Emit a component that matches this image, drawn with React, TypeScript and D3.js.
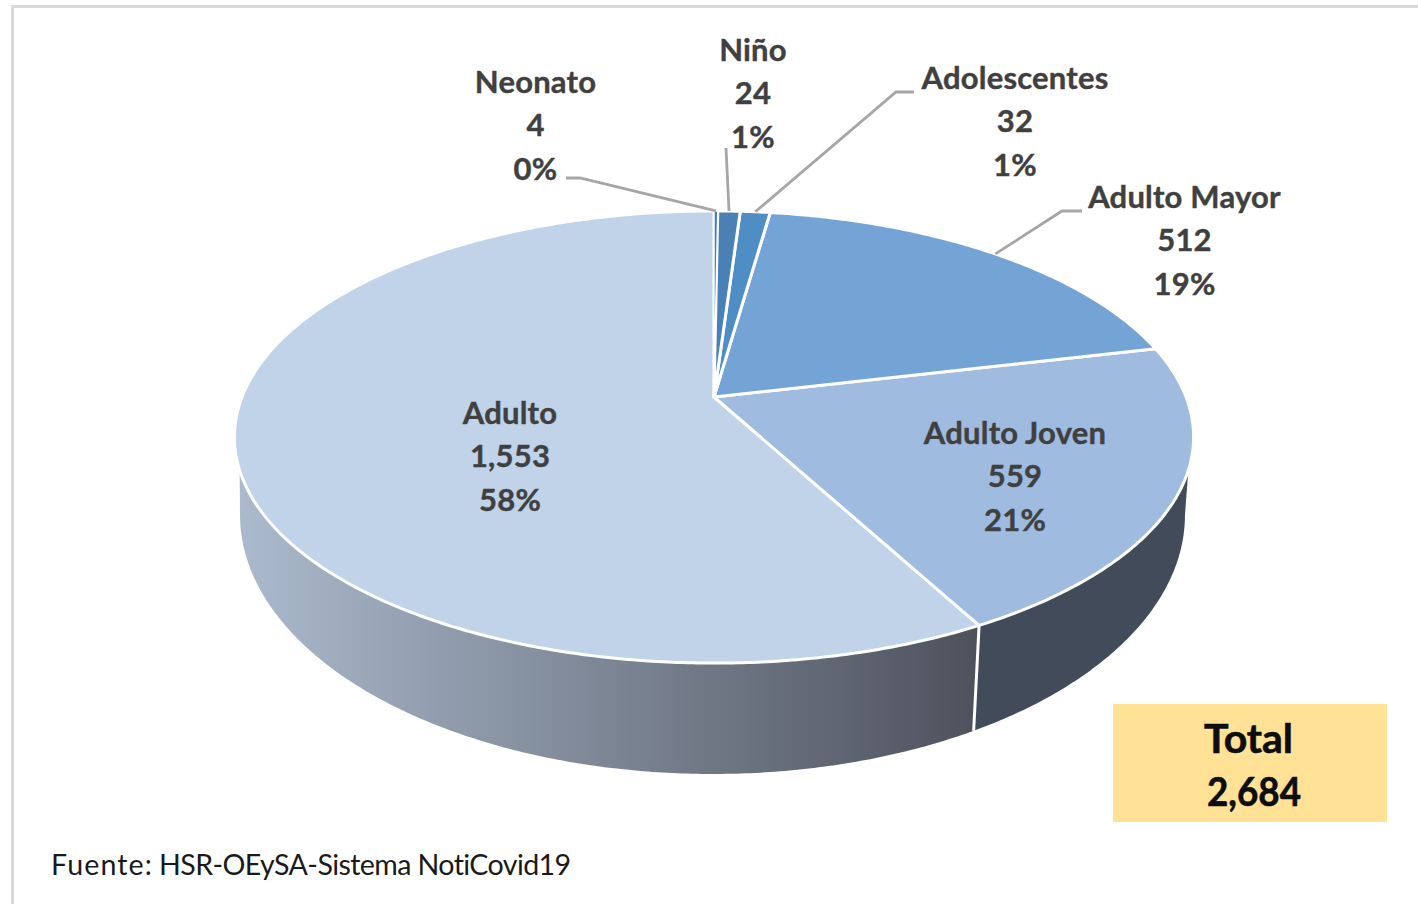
import React from "react";
import * as d3 from "d3";

const categories = ["Neonato", "Niño", "Adolescentes", "Adulto Mayor", "Adulto Joven", "Adulto"];
const values = [4, 24, 32, 512, 559, 1553];
const sliceColors = ["#3f7fbd", "#4a80b4", "#4f8dc5", "#74a4d6", "#9fbbdf", "#c0d3e8"];
const totalLabel = "Total";
const sourceLead = "Fuente:";
const sourceRest = "HSR-OEySA-Sistema NotiCovid19";

const W = 1418;
const H = 904;
const FONT = "Lato, Carlito, 'Open Sans', sans-serif";

const topPlane = { cx: 714, cy: 397, rx: 472, ry: 219, k: 0.177 };
const basePlane = { cx: 712.5, cy: 469, rx: 465, ry: 251, k: 0.177 };

type Plane = typeof topPlane;
const project = (p: Plane, a: number): [number, number] => {
  const u = Math.sin(a);
  const v = -Math.cos(a);
  const w = 1 - p.k * v;
  return [p.cx + (p.rx * u) / w, p.cy + (p.ry * v) / w];
};
const rad = (deg: number) => (deg * Math.PI) / 180;
const arcPoints = (p: Plane, a0: number, a1: number) => {
  const n = Math.max(2, Math.ceil(Math.abs(a1 - a0) / rad(0.5)));
  return d3.range(n + 1).map((i) => project(p, a0 + ((a1 - a0) * i) / n));
};
const line = d3.line();

// label placement: centre x and first baseline for each category
const labelPos = [
  { x: 535.5, y: 93, lx: 566, ly: 178, ex: 580, ey: 178 },
  { x: 753, y: 61, lx: 726, ly: 148, ex: 726, ey: 148 },
  { x: 1015, y: 89, lx: 914, ly: 92, ex: 896, ey: 92 },
  { x: 1184.5, y: 208, lx: 1082, ly: 211, ex: 1062, ey: 211 },
  { x: 1015, y: 444, lx: 0, ly: 0, ex: 0, ey: 0 },
  { x: 510, y: 424, lx: 0, ly: 0, ex: 0, ey: 0 },
];
const LINE_STEP = 43.3;

export default function App() {
  const total = d3.sum(values);
  const pie = d3.pie<number>().sort(null).startAngle(0).endAngle(2 * Math.PI);
  const arcs = pie(values);
  const fmt = d3.format(",");
  const pct = (v: number) => `${Math.round((v / total) * 100)}%`;

  const joven = arcs[4];

  const sidePath = (a: number, topLimit: number, baseLimit: number) => {
    const pts = [...arcPoints(topPlane, a, topLimit), ...arcPoints(basePlane, baseLimit, a)];
    return line(pts) + "Z";
  };

  const sep0 = project(topPlane, joven.endAngle);
  const sep1 = project(basePlane, joven.endAngle);

  return (
    <svg
      width={W}
      height={H}
      viewBox={`0 0 ${W} ${H}`}
      style={{ position: "fixed", left: 0, top: 0, background: "#fff" }}
    >
      <defs>
        <linearGradient id="adultoSide" gradientUnits="userSpaceOnUse" x1={237} x2={975} y1={0} y2={0}>
          <stop offset="0" stopColor="#abbacd" />
          <stop offset="1" stopColor="#4e525d" />
        </linearGradient>
      </defs>

      <path d={`M12.5,${H}V6.5H${W}`} fill="none" stroke="#d9d9d9" strokeWidth={3} />

      {/* side wall */}
      <path d={sidePath(joven.endAngle, rad(251.6), rad(259.8))} fill="url(#adultoSide)" />
      <path d={sidePath(joven.endAngle, rad(108.4), rad(100.2))} fill="#414b5a" />
      <line x1={sep0[0]} y1={sep0[1]} x2={sep1[0]} y2={sep1[1]} stroke="#fff" strokeWidth={3} />

      {/* top face */}
      {[5, 4, 3, 2, 1, 0].map((i) => {
        const a = arcs[i];
        const pts = [[topPlane.cx, topPlane.cy] as [number, number], ...arcPoints(topPlane, a.startAngle, a.endAngle)];
        return (
          <path
            key={categories[i]}
            d={line(pts) + "Z"}
            fill={sliceColors[i]}
            stroke="#fff"
            strokeWidth={i === 0 ? 1.5 : 3}
            strokeLinejoin="round"
          />
        );
      })}

      {/* leaders */}
      {arcs.map((a, i) => {
        const lp = labelPos[i];
        if (!lp.lx) return null;
        const end = project(topPlane, (a.startAngle + a.endAngle) / 2);
        const pts: [number, number][] = [[lp.lx, lp.ly], [lp.ex, lp.ey], end];
        return <path key={i} d={line(pts)!} fill="none" stroke="#a6a6a6" strokeWidth={2.8} />;
      })}

      {/* labels */}
      {categories.map((c, i) => {
        const lp = labelPos[i];
        const rows = [c, fmt(values[i]), pct(values[i])];
        return (
          <text
            key={c}
            textAnchor="middle"
            fontFamily={FONT}
            fontWeight={700}
            fontSize={31}
            letterSpacing={0.2}
            fill="#404040"
            stroke="#404040"
            strokeWidth={0.4}
          >
            {rows.map((r, j) => (
              <tspan key={j} x={lp.x} y={lp.y + j * LINE_STEP}>
                {r}
              </tspan>
            ))}
          </text>
        );
      })}

      {/* total box */}
      <rect x={1113} y={704} width={274} height={118} fill="#ffe295" />
      <text x={1204} y={753} textLength={89} lengthAdjust="spacingAndGlyphs" fontFamily={FONT} fontWeight={700} fontSize={40} fill="#0d0d0d" stroke="#0d0d0d" strokeWidth={0.6}>
        {totalLabel}
      </text>
      <text x={1207} y={806} textLength={94} lengthAdjust="spacingAndGlyphs" fontFamily={FONT} fontWeight={700} fontSize={40} fill="#0d0d0d" stroke="#0d0d0d" strokeWidth={0.6}>
        {fmt(total)}
      </text>

      <text x={51} y={875} fontFamily={FONT} fill="#1a1a1a" fontSize={28.6}>
        <tspan letterSpacing={1.1}>{sourceLead}</tspan>
        <tspan dx={6} letterSpacing={-0.6}>{sourceRest}</tspan>
      </text>
    </svg>
  );
}
